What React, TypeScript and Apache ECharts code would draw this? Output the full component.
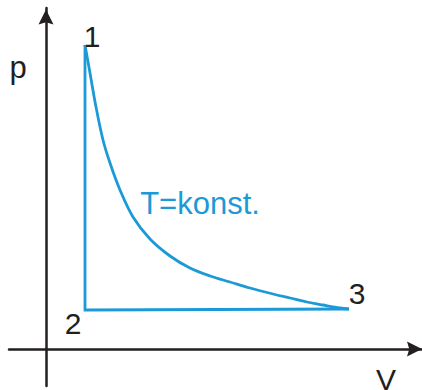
import React, { useEffect, useRef } from "react";
import * as echarts from "echarts";

// Volume / pressure coordinates of the cycle (arbitrary units)
const cornerV = [39, 39, 303];
const cornerP = [304, 39, 40];
const cornerLabels = ["1", "2", "3"];

// Isotherm (T = konst.), from point 1 to point 3
const isoV = [39, 44, 50, 57, 64, 74, 87, 104, 124, 144, 164, 184, 204, 227, 244, 261, 277, 294, 303];
const isoP = [304, 276, 242, 209, 186, 159, 132, 110, 93, 81, 73, 67, 61, 55, 51, 47, 44, 41, 40];

const axisMinV = -37;
const axisMaxV = 376;
const axisMinP = -37;
const axisMaxP = 341;

const BLUE = "#1b9ad7";
const INK = "#231f20";
const FONT = "'Liberation Sans', Arial, sans-serif";

export default function App() {
  const ref = useRef<HTMLDivElement>(null);

  useEffect(() => {
    if (!ref.current) return;
    const chart = echarts.init(ref.current, undefined, { renderer: "svg" });

    const labelOffsets: [number, number][] = [
      [7, -9],
      [-12, 13],
      [8, -16],
    ];

    const arrow = "path://M0 0L10 20L0 17L-10 20Z";

    chart.setOption({
      animation: false,
      backgroundColor: "#ffffff",
      grid: { left: 9, right: 0, top: 8, bottom: 4, containLabel: false },
      xAxis: {
        type: "value",
        min: axisMinV,
        max: axisMaxV,
        axisLine: {
          show: true,
          onZero: true,
          symbol: ["none", arrow],
          symbolSize: [15, 15],
          symbolOffset: [0, -7.5],
          lineStyle: { color: INK, width: 2.5 },
        },
        axisTick: { show: false },
        axisLabel: { show: false },
        splitLine: { show: false },
      },
      yAxis: {
        type: "value",
        min: axisMinP,
        max: axisMaxP,
        axisLine: {
          show: true,
          onZero: true,
          symbol: ["none", arrow],
          symbolSize: [15, 18],
          symbolOffset: [0, -9],
          lineStyle: { color: INK, width: 2.5 },
        },
        axisTick: { show: false },
        axisLabel: { show: false },
        splitLine: { show: false },
      },
      series: [
        {
          type: "line",
          data: cornerV.map((v, i) => [v, cornerP[i]]),
          showSymbol: false,
          symbol: "none",
          lineStyle: { color: BLUE, width: 2.8, join: "miter" },
          z: 3,
        },
        {
          type: "line",
          data: isoV.map((v, i) => [v, isoP[i]]),
          smooth: 0.35,
          showSymbol: false,
          symbol: "none",
          lineStyle: { color: BLUE, width: 2.8 },
          z: 3,
        },
        {
          type: "scatter",
          symbolSize: 0,
          itemStyle: { color: INK, opacity: 1 },
          emphasis: { disabled: true },
          data: cornerV.map((v, i) => ({
            value: [v, cornerP[i]],
            label: {
              show: true,
              formatter: cornerLabels[i],
              position: "inside",
              align: "center",
              verticalAlign: "middle",
              offset: labelOffsets[i],
              color: INK,
              opacity: 1,
              textBorderWidth: 0,
              fontSize: 30,
              fontFamily: FONT,
            },
          })),
          z: 4,
        },
      ],
      graphic: [
        {
          type: "text",
          x: 18,
          y: 67,
          style: { text: "p", fontSize: 31, fontFamily: FONT, fill: INK, align: "center", verticalAlign: "middle" },
        },
        {
          type: "text",
          x: 386,
          y: 379,
          style: { text: "V", fontSize: 30, fontFamily: FONT, fill: INK, align: "center", verticalAlign: "middle" },
        },
        {
          type: "text",
          x: 200,
          y: 203,
          style: { text: "T=konst.", fontSize: 31, fontFamily: FONT, fill: BLUE, align: "center", verticalAlign: "middle" },
        },
      ],
    });

    return () => chart.dispose();
  }, []);

  return (
    <div
      ref={ref}
      style={{ position: "absolute", left: 0, top: 0, width: 422, height: 390 }}
    />
  );
}
